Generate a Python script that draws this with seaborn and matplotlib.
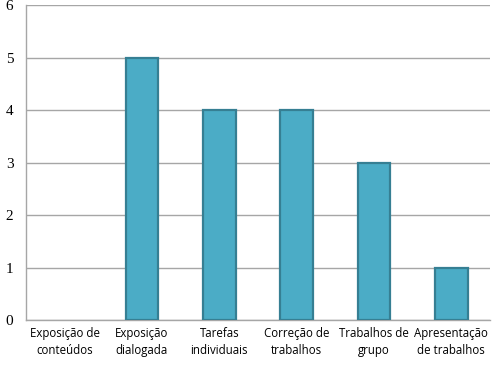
import matplotlib
matplotlib.use("Agg")
import matplotlib.pyplot as plt
import seaborn as sns
import numpy as np
import pandas as pd

categories = ["Exposição de\nconteúdos", "Exposição\ndialogada", "Tarefas\nindividuais",
              "Correção de\ntrabalhos", "Trabalhos de\ngrupo", "Apresentação\nde trabalhos"]
values = [0, 5, 4, 4, 3, 1]
yticks = [0, 1, 2, 3, 4, 5, 6]

sns.set_style("white")
df = pd.DataFrame({"cat": categories, "val": values})

fig = plt.figure(figsize=(4.98, 3.67), dpi=100)
ax = fig.add_axes([0.052, 0.128, 0.932, 0.858])
sns.barplot(data=df, x="cat", y="val", ax=ax, color="#4BACC6", saturation=1,
            width=0.42, edgecolor="#367F93", linewidth=1.6, zorder=3)
for p in ax.patches:
    if p.get_height() == 0:
        p.set_linewidth(0)
ax.set_ylim(0, 6)
ax.set_xlim(-0.5, len(categories) - 0.5)
ax.set_yticks(yticks)
ax.set_yticklabels([str(t) for t in yticks], family="Liberation Serif", fontsize=11, color="black")
ax.yaxis.grid(True, color="#A6A6A6", linewidth=1, zorder=0)
ax.set_axisbelow(True)
ax.set_xlabel("")
ax.set_ylabel("")
ax.set_xticks(range(len(categories)))
ax.set_xticklabels(categories, family="Open Sans", fontsize=8.3, linespacing=1.45, color="black")
ax.tick_params(axis="x", which="major", length=0, pad=5)
ax.set_xticks(np.arange(-0.5, len(categories)), minor=True)
ax.tick_params(axis="x", which="minor", length=5, color="#A6A6A6", width=1)
ax.tick_params(axis="y", length=5, color="#A6A6A6", width=1, pad=4)
for s in ["top", "right"]:
    ax.spines[s].set_visible(False)
for s in ["left", "bottom"]:
    ax.spines[s].set_color("#A6A6A6")
    ax.spines[s].set_linewidth(1)
fig.savefig("out.png", dpi=100)
